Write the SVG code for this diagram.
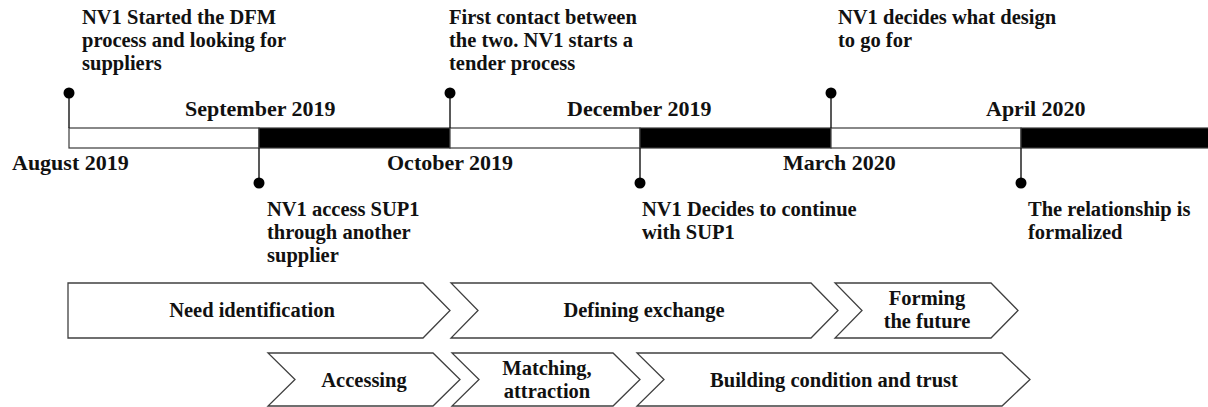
<svg xmlns="http://www.w3.org/2000/svg" width="1208" height="407" viewBox="0 0 1208 407">
  <style>
    text { font-family: "Liberation Serif", "Tinos", "DejaVu Serif", serif; font-weight: 700; fill: #111; }
    .ev { font-size: 20.5px; }
    .date { font-size: 22px; }
    .stage { font-size: 20.5px; text-anchor: middle; }
    .seg { stroke: #3a3a3a; stroke-width: 1.2; }
    .light { fill: #fff; }
    .dark { fill: #000; }
    .stem { stroke: #222; stroke-width: 1.5; }
    .pin { fill: #000; }
    .chev { fill: #fff; stroke: #404040; stroke-width: 1.3; stroke-linejoin: miter; }
  </style>

  <!-- timeline bar: alternating white/black segments -->
  <g id="timeline">
    <rect class="seg light" x="69" y="128" width="190" height="20"/>
    <rect class="seg dark" x="259" y="128" width="191" height="20"/>
    <rect class="seg light" x="450" y="128" width="190" height="20"/>
    <rect class="seg dark" x="640" y="128" width="191" height="20"/>
    <rect class="seg light" x="831" y="128" width="190" height="20"/>
    <rect class="seg dark" x="1021" y="128" width="190" height="20"/>
  </g>

  <!-- pin stems -->
  <g id="connectors">
    <line class="stem" x1="69" y1="93" x2="69" y2="128"/>
    <line class="stem" x1="450" y1="93" x2="450" y2="128"/>
    <line class="stem" x1="831" y1="93" x2="831" y2="128"/>
    <line class="stem" x1="259" y1="148" x2="259" y2="183"/>
    <line class="stem" x1="640" y1="148" x2="640" y2="183"/>
    <line class="stem" x1="1021" y1="148" x2="1021" y2="183"/>
  </g>

  <!-- date labels -->
  <g id="dates">
    <text class="date" x="185" y="116">September 2019</text>
    <text class="date" x="567" y="116">December 2019</text>
    <text class="date" x="986" y="116">April 2020</text>
    <text class="date" x="12" y="170">August 2019</text>
    <text class="date" x="387" y="170">October 2019</text>
    <text class="date" x="783" y="170">March 2020</text>
  </g>

  <!-- events above the bar -->
  <g id="event-dfm">
    <circle class="pin" cx="69" cy="93" r="5.5"/>
    <text class="ev" x="82" y="24">NV1 Started the DFM</text>
    <text class="ev" x="82" y="47">process and looking for</text>
    <text class="ev" x="82" y="70">suppliers</text>
  </g>
  <g id="event-first-contact">
    <circle class="pin" cx="450" cy="93" r="5.5"/>
    <text class="ev" x="449" y="24">First contact between</text>
    <text class="ev" x="449" y="47">the two. NV1 starts a</text>
    <text class="ev" x="449" y="70">tender process</text>
  </g>
  <g id="event-design">
    <circle class="pin" cx="831" cy="93" r="5.5"/>
    <text class="ev" x="838" y="24">NV1 decides what design</text>
    <text class="ev" x="838" y="47">to go for</text>
  </g>

  <!-- events below the bar -->
  <g id="event-access">
    <circle class="pin" cx="259" cy="183" r="5.5"/>
    <text class="ev" x="267" y="216">NV1 access SUP1</text>
    <text class="ev" x="267" y="239">through another</text>
    <text class="ev" x="267" y="262">supplier</text>
  </g>
  <g id="event-continue">
    <circle class="pin" cx="640" cy="183" r="5.5"/>
    <text class="ev" x="642" y="216">NV1 Decides to continue</text>
    <text class="ev" x="642" y="239">with SUP1</text>
  </g>
  <g id="event-formalized">
    <circle class="pin" cx="1021" cy="183" r="5.5"/>
    <text class="ev" x="1028" y="216">The relationship is</text>
    <text class="ev" x="1028" y="239">formalized</text>
  </g>

  <!-- stage chevrons, upper row -->
  <g id="stage-need">
    <path class="chev" d="M68,283 H423 L450,310.5 L423,338 H68 Z"/>
    <text class="stage" x="252" y="317">Need identification</text>
  </g>
  <g id="stage-defining">
    <path class="chev" d="M451,283 H811 L838,310.5 L811,338 H451 L478,310.5 Z"/>
    <text class="stage" x="644" y="317">Defining exchange</text>
  </g>
  <g id="stage-forming">
    <path class="chev" d="M835,283 H991 L1018,310.5 L991,338 H835 L862,310.5 Z"/>
    <text class="stage" x="927" y="305">Forming</text>
    <text class="stage" x="927" y="328">the future</text>
  </g>

  <!-- stage chevrons, lower row -->
  <g id="stage-accessing">
    <path class="chev" d="M268,353 H433 L460,379.5 L433,406 H268 L295,379.5 Z"/>
    <text class="stage" x="364" y="387">Accessing</text>
  </g>
  <g id="stage-matching">
    <path class="chev" d="M452,353 H613 L640,379.5 L613,406 H452 L479,379.5 Z"/>
    <text class="stage" x="547" y="375">Matching,</text>
    <text class="stage" x="547" y="398">attraction</text>
  </g>
  <g id="stage-building">
    <path class="chev" d="M637,353 H1002 L1030,379.5 L1002,406 H637 L664,379.5 Z"/>
    <text class="stage" x="834" y="387">Building condition and trust</text>
  </g>
</svg>
